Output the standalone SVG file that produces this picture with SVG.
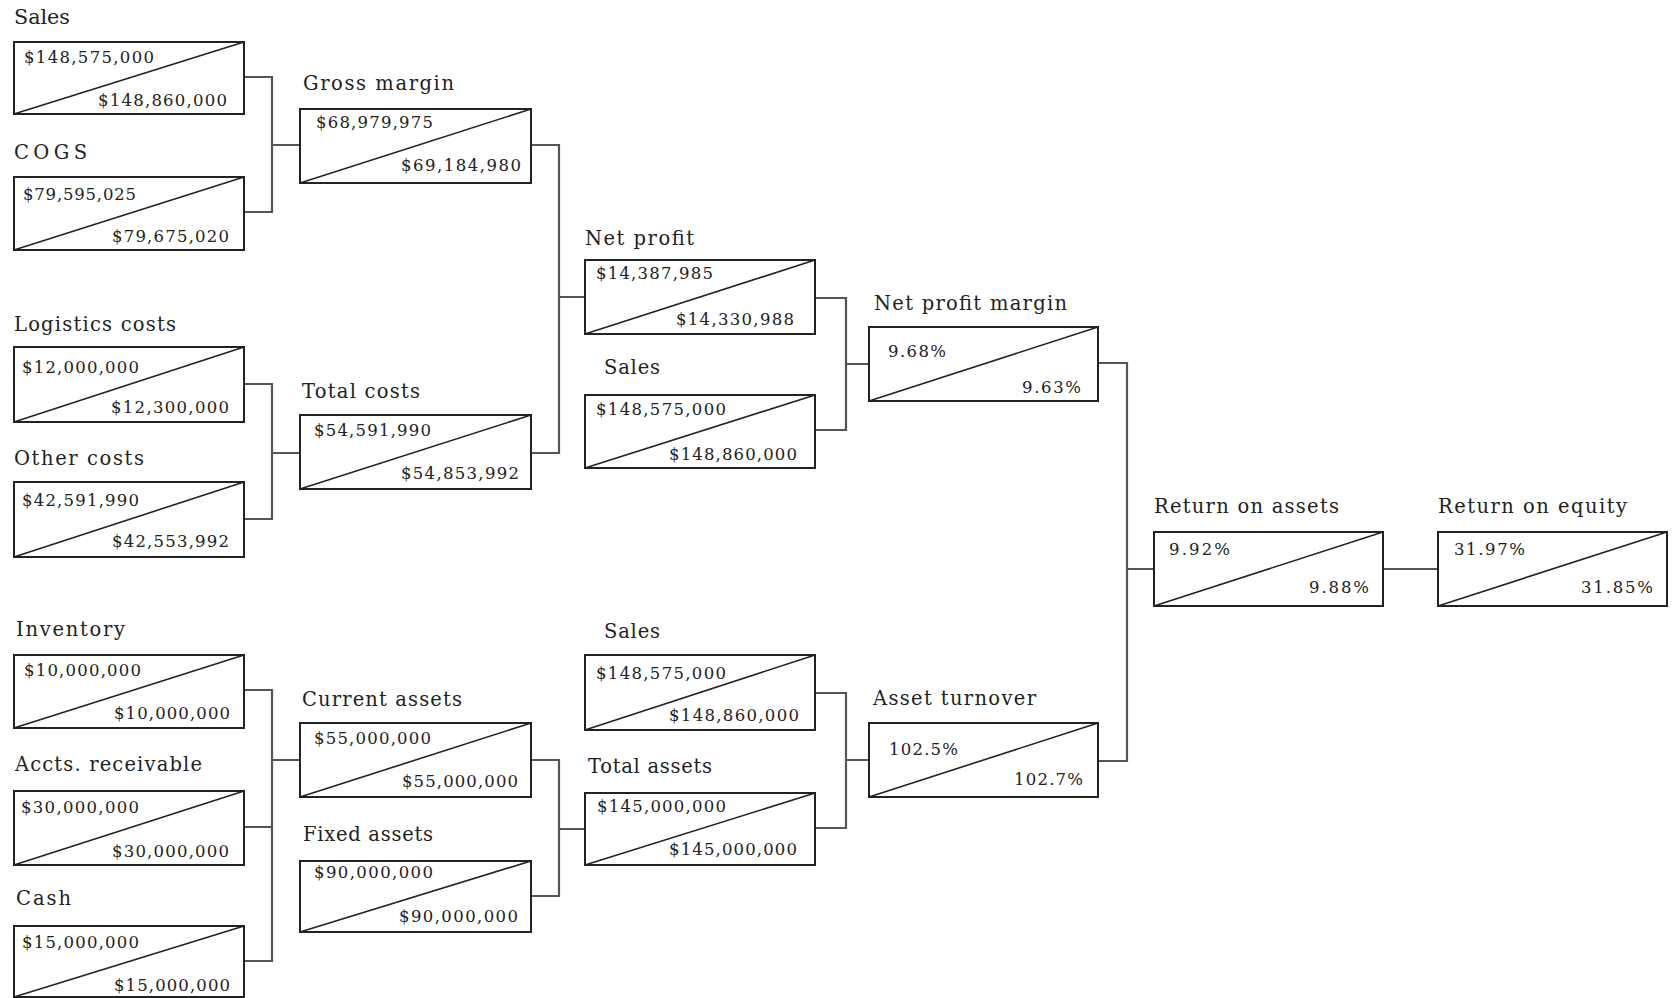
<svg xmlns="http://www.w3.org/2000/svg" width="1672" height="998" viewBox="0 0 1672 998">
<style>
.box{fill:#fff;stroke:#222;stroke-width:2}
.diag{stroke:#222;stroke-width:1.6}
.lbl{font-family:"DejaVu Serif","Liberation Serif",serif;font-size:19.5px;fill:#222}
.val{font-family:"DejaVu Serif","Liberation Serif",serif;font-size:16.5px;fill:#222}
.conn{fill:none;stroke:#555;stroke-width:2.2}
</style>
<rect width="1672" height="998" fill="#fff"/>
<g id="connectors">
<path class="conn" d="M244,77 H272 V212 H244 M272,145 H300"/>
<path class="conn" d="M244,384 H272 V519 H244 M272,453 H300"/>
<path class="conn" d="M244,690 H272 V961 H244 M244,827 H272 M272,760 H300"/>
<path class="conn" d="M531,145 H559 V453 H531 M559,297 H585"/>
<path class="conn" d="M531,760 H559 V896 H531 M559,829 H585"/>
<path class="conn" d="M815,298 H846 V430 H815 M846,364 H869"/>
<path class="conn" d="M815,693 H846 V828 H815 M846,760 H869"/>
<path class="conn" d="M1098,363 H1127 V761 H1098 M1127,569 H1154"/>
<path class="conn" d="M1383,569 H1438"/>
</g>
<g id="sales1">
<text class="lbl" x="14" y="24" textLength="56" lengthAdjust="spacingAndGlyphs">Sales</text>
<rect class="box" x="14" y="42" width="230" height="72"/>
<line class="diag" x1="14" y1="114" x2="244" y2="42"/>
<text class="val" x="24" y="63" textLength="130" lengthAdjust="spacing">$148,575,000</text>
<text class="val" x="98" y="106" textLength="129" lengthAdjust="spacing">$148,860,000</text>
</g>
<g id="cogs">
<text class="lbl" x="14" y="159" textLength="73" lengthAdjust="spacing">COGS</text>
<rect class="box" x="14" y="177" width="230" height="73"/>
<line class="diag" x1="14" y1="250" x2="244" y2="177"/>
<text class="val" x="23" y="200" textLength="113" lengthAdjust="spacing">$79,595,025</text>
<text class="val" x="112" y="242" textLength="117" lengthAdjust="spacing">$79,675,020</text>
</g>
<g id="gross-margin">
<text class="lbl" x="303" y="90" textLength="151" lengthAdjust="spacing">Gross margin</text>
<rect class="box" x="300" y="109" width="231" height="74"/>
<line class="diag" x1="300" y1="183" x2="531" y2="109"/>
<text class="val" x="316" y="128" textLength="117" lengthAdjust="spacing">$68,979,975</text>
<text class="val" x="401" y="171" textLength="120" lengthAdjust="spacing">$69,184,980</text>
</g>
<g id="logistics">
<text class="lbl" x="14" y="331" textLength="162" lengthAdjust="spacing">Logistics costs</text>
<rect class="box" x="14" y="347" width="230" height="75"/>
<line class="diag" x1="14" y1="422" x2="244" y2="347"/>
<text class="val" x="22" y="373" textLength="117" lengthAdjust="spacing">$12,000,000</text>
<text class="val" x="111" y="413" textLength="118" lengthAdjust="spacing">$12,300,000</text>
</g>
<g id="other-costs">
<text class="lbl" x="14" y="465" textLength="130" lengthAdjust="spacing">Other costs</text>
<rect class="box" x="14" y="482" width="230" height="75"/>
<line class="diag" x1="14" y1="557" x2="244" y2="482"/>
<text class="val" x="22" y="506" textLength="117" lengthAdjust="spacing">$42,591,990</text>
<text class="val" x="112" y="547" textLength="117" lengthAdjust="spacing">$42,553,992</text>
</g>
<g id="total-costs">
<text class="lbl" x="302" y="398" textLength="118" lengthAdjust="spacing">Total costs</text>
<rect class="box" x="300" y="415" width="231" height="74"/>
<line class="diag" x1="300" y1="489" x2="531" y2="415"/>
<text class="val" x="314" y="436" textLength="117" lengthAdjust="spacing">$54,591,990</text>
<text class="val" x="401" y="479" textLength="118" lengthAdjust="spacing">$54,853,992</text>
</g>
<g id="inventory">
<text class="lbl" x="16" y="636" textLength="109" lengthAdjust="spacing">Inventory</text>
<rect class="box" x="14" y="655" width="230" height="73"/>
<line class="diag" x1="14" y1="728" x2="244" y2="655"/>
<text class="val" x="24" y="676" textLength="117" lengthAdjust="spacing">$10,000,000</text>
<text class="val" x="114" y="719" textLength="116" lengthAdjust="spacing">$10,000,000</text>
</g>
<g id="accts-receivable">
<text class="lbl" x="15" y="771" textLength="187" lengthAdjust="spacing">Accts. receivable</text>
<rect class="box" x="14" y="791" width="230" height="74"/>
<line class="diag" x1="14" y1="865" x2="244" y2="791"/>
<text class="val" x="21" y="813" textLength="118" lengthAdjust="spacing">$30,000,000</text>
<text class="val" x="112" y="857" textLength="117" lengthAdjust="spacing">$30,000,000</text>
</g>
<g id="cash">
<text class="lbl" x="16" y="905" textLength="55" lengthAdjust="spacing">Cash</text>
<rect class="box" x="14" y="926" width="230" height="71"/>
<line class="diag" x1="14" y1="997" x2="244" y2="926"/>
<text class="val" x="22" y="948" textLength="117" lengthAdjust="spacing">$15,000,000</text>
<text class="val" x="114" y="991" textLength="116" lengthAdjust="spacing">$15,000,000</text>
</g>
<g id="current-assets">
<text class="lbl" x="302" y="706" textLength="160" lengthAdjust="spacing">Current assets</text>
<rect class="box" x="300" y="723" width="231" height="74"/>
<line class="diag" x1="300" y1="797" x2="531" y2="723"/>
<text class="val" x="314" y="744" textLength="117" lengthAdjust="spacing">$55,000,000</text>
<text class="val" x="402" y="787" textLength="116" lengthAdjust="spacing">$55,000,000</text>
</g>
<g id="fixed-assets">
<text class="lbl" x="303" y="841" textLength="130" lengthAdjust="spacing">Fixed assets</text>
<rect class="box" x="300" y="861" width="231" height="71"/>
<line class="diag" x1="300" y1="932" x2="531" y2="861"/>
<text class="val" x="314" y="878" textLength="119" lengthAdjust="spacing">$90,000,000</text>
<text class="val" x="399" y="922" textLength="119" lengthAdjust="spacing">$90,000,000</text>
</g>
<g id="net-profit">
<text class="lbl" x="585" y="245" textLength="109" lengthAdjust="spacing">Net profit</text>
<rect class="box" x="585" y="260" width="230" height="74"/>
<line class="diag" x1="585" y1="334" x2="815" y2="260"/>
<text class="val" x="596" y="279" textLength="117" lengthAdjust="spacing">$14,387,985</text>
<text class="val" x="676" y="325" textLength="118" lengthAdjust="spacing">$14,330,988</text>
</g>
<g id="sales2">
<text class="lbl" x="604" y="374" textLength="56" lengthAdjust="spacing">Sales</text>
<rect class="box" x="585" y="395" width="230" height="73"/>
<line class="diag" x1="585" y1="468" x2="815" y2="395"/>
<text class="val" x="596" y="415" textLength="130" lengthAdjust="spacing">$148,575,000</text>
<text class="val" x="669" y="460" textLength="128" lengthAdjust="spacing">$148,860,000</text>
</g>
<g id="net-profit-margin">
<text class="lbl" x="874" y="310" textLength="193" lengthAdjust="spacing">Net profit margin</text>
<rect class="box" x="869" y="327" width="229" height="74"/>
<line class="diag" x1="869" y1="401" x2="1098" y2="327"/>
<text class="val" x="888" y="357" textLength="58" lengthAdjust="spacing">9.68%</text>
<text class="val" x="1022" y="393" textLength="59" lengthAdjust="spacing">9.63%</text>
</g>
<g id="sales3">
<text class="lbl" x="604" y="638" textLength="56" lengthAdjust="spacing">Sales</text>
<rect class="box" x="585" y="655" width="230" height="75"/>
<line class="diag" x1="585" y1="730" x2="815" y2="655"/>
<text class="val" x="596" y="679" textLength="130" lengthAdjust="spacing">$148,575,000</text>
<text class="val" x="669" y="721" textLength="130" lengthAdjust="spacing">$148,860,000</text>
</g>
<g id="total-assets">
<text class="lbl" x="588" y="773" textLength="124" lengthAdjust="spacing">Total assets</text>
<rect class="box" x="585" y="793" width="230" height="72"/>
<line class="diag" x1="585" y1="865" x2="815" y2="793"/>
<text class="val" x="597" y="812" textLength="129" lengthAdjust="spacing">$145,000,000</text>
<text class="val" x="669" y="855" textLength="128" lengthAdjust="spacing">$145,000,000</text>
</g>
<g id="asset-turnover">
<text class="lbl" x="873" y="705" textLength="163" lengthAdjust="spacing">Asset turnover</text>
<rect class="box" x="869" y="723" width="229" height="74"/>
<line class="diag" x1="869" y1="797" x2="1098" y2="723"/>
<text class="val" x="889" y="755" textLength="69" lengthAdjust="spacing">102.5%</text>
<text class="val" x="1014" y="785" textLength="69" lengthAdjust="spacing">102.7%</text>
</g>
<g id="return-on-assets">
<text class="lbl" x="1154" y="513" textLength="185" lengthAdjust="spacing">Return on assets</text>
<rect class="box" x="1154" y="532" width="229" height="74"/>
<line class="diag" x1="1154" y1="606" x2="1383" y2="532"/>
<text class="val" x="1169" y="555" textLength="61" lengthAdjust="spacing">9.92%</text>
<text class="val" x="1309" y="593" textLength="60" lengthAdjust="spacing">9.88%</text>
</g>
<g id="return-on-equity">
<text class="lbl" x="1438" y="513" textLength="189" lengthAdjust="spacing">Return on equity</text>
<rect class="box" x="1438" y="532" width="229" height="74"/>
<line class="diag" x1="1438" y1="606" x2="1667" y2="532"/>
<text class="val" x="1454" y="555" textLength="71" lengthAdjust="spacing">31.97%</text>
<text class="val" x="1581" y="593" textLength="72" lengthAdjust="spacing">31.85%</text>
</g>
</svg>
